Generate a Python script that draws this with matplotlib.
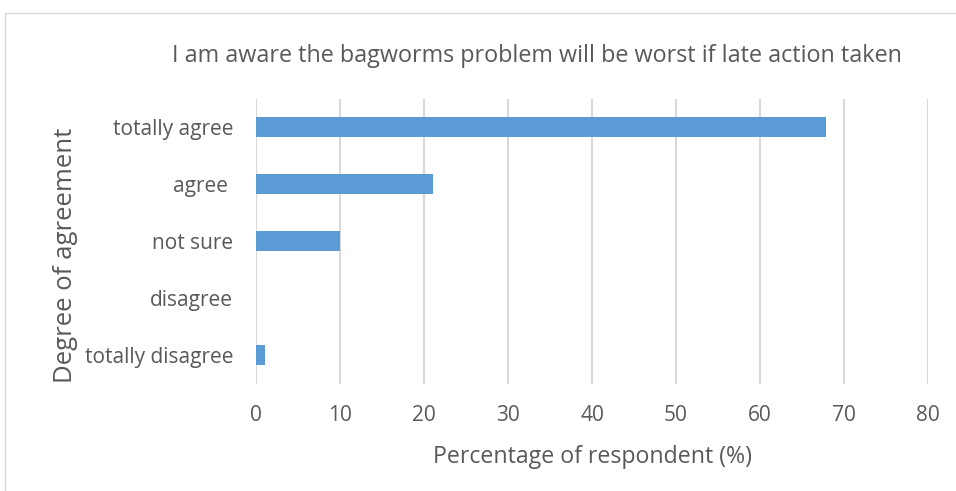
import matplotlib.pyplot as plt
from matplotlib.patches import Rectangle

categories = ['totally agree', 'agree ', 'not sure', 'disagree', 'totally disagree']
values = [67.8, 21.1, 10.0, 0.0, 1.1]
xticks = [0, 10, 20, 30, 40, 50, 60, 70, 80]

plt.rcParams['font.family'] = ['Open Sans', 'DejaVu Sans']
txt = '#595959'
grid = '#D9D9D9'

fig = plt.figure(figsize=(9.56, 4.91), dpi=100)
ax = fig.add_axes([0.2678, 0.2189, 0.7029, 0.5804])

pos = list(range(len(categories)))[::-1]
ax.barh(pos, values, 0.35, color='#5B9BD5', linewidth=0, zorder=3)

ax.set_xlim(0, 80)
ax.set_ylim(-0.5, len(categories) - 0.5)
ax.set_xticks(xticks)
ax.set_yticks(pos)
ax.set_yticklabels(categories)
ax.xaxis.grid(True, color=grid, linewidth=1.5, zorder=0)
for s in ax.spines.values():
    s.set_visible(False)
ax.tick_params(axis='both', length=0, colors=txt, labelsize=15)
ax.tick_params(axis='x', pad=15.5)
ax.tick_params(axis='y', pad=16.5)

ax.set_xlabel('Percentage of respondent (%)', fontsize=16.7, color=txt, labelpad=14)
ax.set_ylabel('Degree of agreement', fontsize=18.5, color=txt, labelpad=5, y=0.45)
fig.text(0.5617, 0.886, 'I am aware the bagworms problem will be worst if late action taken',
         ha='center', va='center', fontsize=16.8, color=txt)

fig.patches.append(Rectangle((5 / 956, -0.1), 1.2, 1 - 13 / 491 + 0.1, transform=fig.transFigure,
                             fill=False, edgecolor=grid, linewidth=1))

fig.savefig('out.png', dpi=100)
